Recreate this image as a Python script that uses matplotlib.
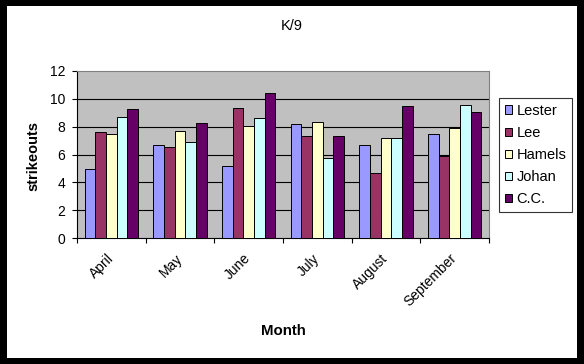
import numpy as np
import matplotlib.pyplot as plt
from matplotlib.patches import Rectangle
from matplotlib.transforms import ScaledTranslation

plt.rcParams['font.family'] = ['Liberation Sans', 'DejaVu Sans']

months = ['April', 'May', 'June', 'July', 'August', 'September']
players = ['Lester', 'Lee', 'Hamels', 'Johan', 'C.C.']
lester = [4.98, 6.68, 5.19, 8.21, 6.68, 7.47]
lee = [7.63, 6.54, 9.36, 7.33, 4.67, 5.91]
hamels = [7.47, 7.71, 8.04, 8.36, 7.18, 7.92]
johan = [8.71, 6.90, 8.62, 5.75, 7.18, 9.58]
cc = [9.28, 8.28, 10.44, 7.33, 9.48, 9.07]
series = [lester, lee, hamels, johan, cc]
colors = ['#9999ff', '#993366', '#ffffcc', '#ccffff', '#660066']

W, H = 584, 364
fig = plt.figure(figsize=(W / 100, H / 100), dpi=100, facecolor='black')
# white chart area inside black frame
fig.patches.append(Rectangle((7 / W, 1 - 358 / H), (577 - 7) / W, (358 - 6) / H,
                             transform=fig.transFigure, facecolor='white',
                             edgecolor='none', zorder=-5))

ax = fig.add_axes([77 / W, 1 - 238 / H, (489 - 77) / W, (238 - 71) / H])
ax.set_facecolor('#c0c0c0')

x = np.arange(len(months))
bw = 0.155
for i, (vals, c, name) in enumerate(zip(series, colors, players)):
    ax.bar(x + (i - 2) * bw, vals, bw, color=c, edgecolor='black',
           linewidth=0.7, label=name, zorder=3)

ax.set_xlim(-0.5, len(months) - 0.5)
ax.set_ylim(0, 12)
ax.set_yticks(range(0, 13, 2))
for yv in range(2, 12, 2):
    ax.axhline(yv, color='black', linewidth=0.8, zorder=1)

ax.set_xticks(x)
ax.set_xticklabels(months, rotation=45, ha='right', va='center',
                   rotation_mode='anchor', fontsize=10)
shift = ScaledTranslation(-3 / 100, 0, fig.dpi_scale_trans)
for lab in ax.get_xticklabels():
    lab.set_transform(lab.get_transform() + shift)
ax.set_xticks(np.arange(-0.5, len(months)), minor=True)
ax.tick_params(axis='x', which='major', length=0, pad=13)
ax.tick_params(axis='x', which='minor', length=3.6, width=0.8, direction='out')
ax.tick_params(axis='y', length=3.6, width=0.8, labelsize=10, pad=5)

for s in ['left', 'bottom']:
    ax.spines[s].set_color('black')
    ax.spines[s].set_linewidth(0.8)
for s in ['top', 'right']:
    ax.spines[s].set_color('#808080')
    ax.spines[s].set_linewidth(0.8)

fig.text(33 / W, 1 - 156 / H, 'strikeouts', fontsize=10.5, fontweight='bold',
         rotation=90, ha='center', va='center')
fig.text(283 / W, 1 - 331 / H, 'Month', fontsize=10.8, fontweight='bold',
         ha='center', va='center')
fig.text(292 / W, 1 - 26 / H, 'K/9', fontsize=10.5, ha='center', va='center')

leg = ax.legend(loc='upper left', bbox_to_anchor=(499 / W, 1 - 98 / H),
                bbox_transform=fig.transFigure, fontsize=10.5, frameon=True,
                fancybox=False, edgecolor='black', handlelength=0.5,
                handleheight=0.5, handletextpad=0.3, labelspacing=0.55,
                borderpad=0.4, borderaxespad=0)
leg.get_frame().set_linewidth(0.8)

fig.savefig('out.png', dpi=100, facecolor='black')
